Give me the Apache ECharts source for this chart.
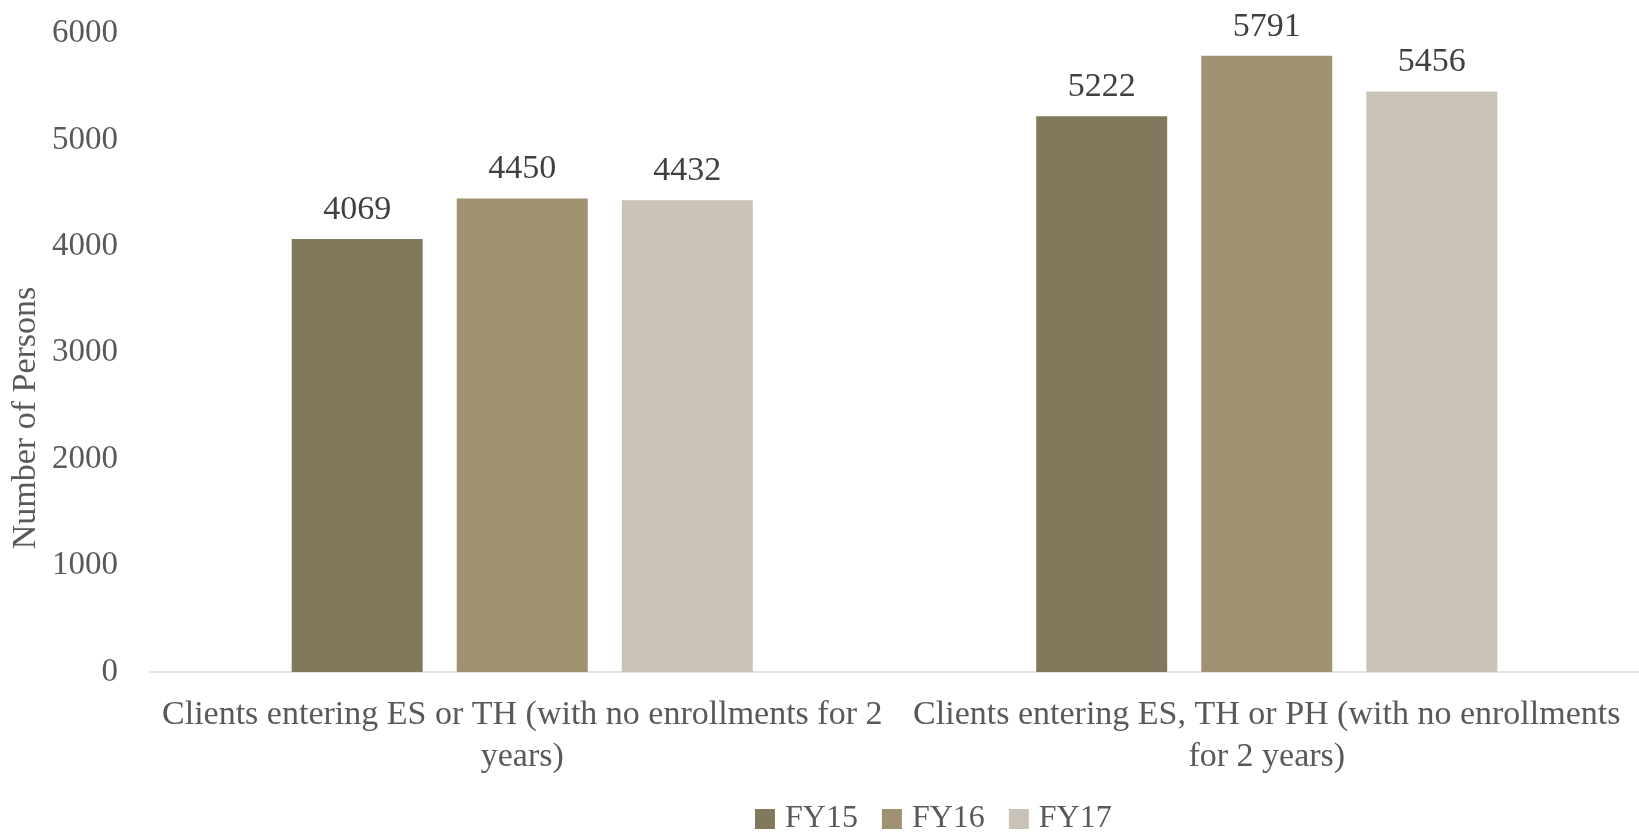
<!DOCTYPE html>
<html>
<head>
<meta charset="utf-8">
<script src="https://cdn.jsdelivr.net/npm/echarts@6/dist/echarts.min.js"></script>
<style>
  html, body { margin: 0; padding: 0; background: #fff; }
  #chart { width: 1639px; height: 832px; }
</style>
</head>
<body>
<div id="chart"></div>
<script>
const categories = [
  'Clients entering ES or TH (with no enrollments for 2\nyears)',
  'Clients entering ES, TH or PH (with no enrollments\nfor 2 years)',
]
const fy15 = [4069, 5222]
const fy16 = [4450, 5791]
const fy17 = [4432, 5456]
const yTicks = { min: 0, max: 6000, interval: 1000 }

const FONT = '"Liberation Serif", "DejaVu Serif", serif'
const colors = ['#82785C', '#A09270', '#C9C2B6']

function barSeries(name, data, color) {
  return {
    name,
    type: 'bar',
    data,
    barWidth: 131,
    barGap: '26%',
    itemStyle: { color },
    label: {
      show: true,
      position: 'top',
      distance: 12,
      color: '#404040',
      fontFamily: FONT,
      fontSize: 34,
    },
  }
}

const chart = echarts.init(document.getElementById('chart'))
chart.setOption({
  animation: false,
  textStyle: { fontFamily: FONT },
  grid: { left: 150, right: -10, top: 33.5, bottom: 160, containLabel: false },
  xAxis: {
    type: 'category',
    data: categories,
    axisLine: { lineStyle: { color: '#D9D9D9', width: 1.5 } },
    axisTick: { show: false },
    axisLabel: {
      interval: 0,
      color: '#595959',
      fontFamily: FONT,
      fontSize: 34,
      lineHeight: 42,
      margin: 22,
    },
  },
  yAxis: {
    type: 'value',
    min: yTicks.min,
    max: yTicks.max,
    interval: yTicks.interval,
    splitLine: { show: false },
    axisLine: { show: false },
    axisTick: { show: false },
    axisLabel: {
      color: '#595959',
      fontFamily: FONT,
      fontSize: 33,
      margin: 32,
      formatter: v => String(v),
    },
  },
  legend: {
    top: 798,
    left: 750,
    itemWidth: 20,
    itemHeight: 20,
    itemGap: 24,
    icon: 'rect',
    textStyle: { color: '#595959', fontFamily: FONT, fontSize: 32, padding: [0, 0, 0, 5] },
  },
  graphic: [
    {
      type: 'text',
      rotation: Math.PI / 2,
      x: 26,
      y: 418,
      style: {
        text: 'Number of Persons',
        fill: '#595959',
        font: '34px ' + FONT,
        align: 'center',
        verticalAlign: 'middle',
      },
    },
  ],
  series: [
    barSeries('FY15', fy15, colors[0]),
    barSeries('FY16', fy16, colors[1]),
    barSeries('FY17', fy17, colors[2]),
  ],
})
</script>
</body>
</html>
